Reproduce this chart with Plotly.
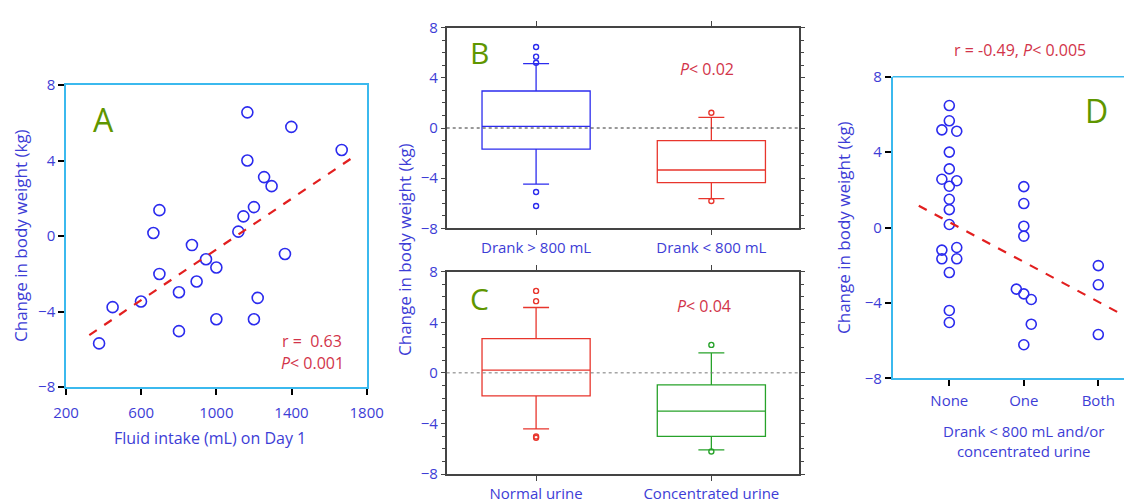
import numpy as np
import plotly.graph_objects as go

# ---------------- data ----------------
# Panel A: fluid intake vs change in body weight
a_intake = [376, 448, 599, 665, 697, 697, 801, 801, 870, 895, 945, 1000, 1000,
            1117, 1144, 1200, 1165, 1165, 1254, 1294, 1220, 1200, 1365, 1399, 1667]
a_change = [-5.69, -3.77, -3.47, 0.16, 1.37, -2.01, -2.98, -5.04, -0.48, -2.41, -1.23, -1.67, -4.41,
            0.23, 1.04, 1.53, 6.55, 4.00, 3.12, 2.64, -3.28, -4.41, -0.95, 5.78, 4.56]
a_fit_x = [324, 1733]
a_fit_intercept = -7.425
a_fit_slope = 0.006714

# Panel B: box statistics
b_cats = ["Drank > 800 mL", "Drank < 800 mL"]
b_q1 = [-1.68, -4.36]
b_median = [0.13, -3.35]
b_q3 = [2.95, -1.01]
b_lower = [-4.47, -5.64]
b_upper = [5.13, 0.85]
b_out_1 = [6.46, 5.69, 5.20, -5.10, -6.22]
b_out_2 = [1.22, -5.82]

# Panel C: box statistics
c_cats = ["Normal urine", "Concentrated urine"]
c_q1 = [-1.82, -5.03]
c_median = [0.21, -3.03]
c_q3 = [2.71, -0.95]
c_lower = [-4.43, -6.09]
c_upper = [5.17, 1.58]
c_out_1 = [6.48, 5.67, -5.03, -5.14]
c_out_2 = [2.21, -6.22]

# Panel D: grouped points
d_labels = ["None", "One", "Both"]
d_group = [0]*19 + [1]*9 + [2]*3
d_dodge = [0, 0, -0.1, 0.1, 0, 0, -0.1, 0.1, 0, 0, 0, 0, -0.1, 0.1, -0.1, 0.1, 0, 0, 0,
           0, 0, 0, 0, -0.1, 0, 0.1, 0.1, 0,
           0, 0, 0]
d_change = [6.47, 5.66, 5.18, 5.11, 4.00, 3.11, 2.56, 2.48, 2.19, 1.50, 0.95, 0.16, -1.20, -1.06,
            -1.66, -1.66, -2.39, -4.40, -5.04,
            2.17, 1.27, 0.07, -0.46, -3.27, -3.52, -3.82, -5.13, -6.22,
            -2.02, -3.04, -5.68]
d_fit_x = [-0.41, 2.28]
d_fit_intercept = 0.29
d_fit_slope = -2.116

# ---------------- styles ----------------
FONT = "Open Sans"
BLUE_TXT = "#3d3dd6"
BLUE_MK = "#2b2bee"
RED_TXT = "#d2344a"
RED_LINE = "#e21f1f"
RED_BOX = "#e8352c"
GREEN_BOX = "#27a22a"
GREEN_LBL = "#5f9600"
FRAME_LB = "#3bb9ee"
FRAME_DK = "#444444"

W, H = 1124, 499
def px(x):
    return x / W
def py(y):
    return 1 - y / H

fig = go.Figure()

# Panel A
fig.add_trace(go.Scatter(x=a_intake, y=a_change, mode="markers", xaxis="x", yaxis="y",
                         marker=dict(symbol="circle-open", size=11, color=BLUE_MK, line=dict(width=1.6))))
ax = np.array(a_fit_x, dtype=float)
fig.add_trace(go.Scatter(x=ax, y=a_fit_intercept + a_fit_slope*ax, mode="lines", xaxis="x", yaxis="y",
                         line=dict(color=RED_LINE, width=2.2, dash="dash")))

# Panel B
box_colors_b = [BLUE_MK, RED_BOX]
outs_b = [b_out_1, b_out_2]
for i in range(2):
    fig.add_trace(go.Box(x=[b_cats[i]], q1=[b_q1[i]], median=[b_median[i]], q3=[b_q3[i]],
                         lowerfence=[b_lower[i]], upperfence=[b_upper[i]], boxpoints=False,
                         width=0.617, whiskerwidth=0.24, fillcolor="rgba(0,0,0,0)",
                         line=dict(color=box_colors_b[i], width=1.3), xaxis="x2", yaxis="y2"))
    fig.add_trace(go.Scatter(x=[b_cats[i]]*len(outs_b[i]), y=outs_b[i], mode="markers",
                             xaxis="x2", yaxis="y2",
                             marker=dict(symbol="circle-open", size=5, color=box_colors_b[i],
                                         line=dict(width=1.4))))

# Panel C
box_colors_c = [RED_BOX, GREEN_BOX]
outs_c = [c_out_1, c_out_2]
for i in range(2):
    fig.add_trace(go.Box(x=[c_cats[i]], q1=[c_q1[i]], median=[c_median[i]], q3=[c_q3[i]],
                         lowerfence=[c_lower[i]], upperfence=[c_upper[i]], boxpoints=False,
                         width=0.617, whiskerwidth=0.24, fillcolor="rgba(0,0,0,0)",
                         line=dict(color=box_colors_c[i], width=1.3), xaxis="x3", yaxis="y3"))
    fig.add_trace(go.Scatter(x=[c_cats[i]]*len(outs_c[i]), y=outs_c[i], mode="markers",
                             xaxis="x3", yaxis="y3",
                             marker=dict(symbol="circle-open", size=5, color=box_colors_c[i],
                                         line=dict(width=1.4))))

# Panel D
dx = np.array(d_group, dtype=float) + np.array(d_dodge)
fig.add_trace(go.Scatter(x=dx, y=d_change, mode="markers", xaxis="x4", yaxis="y4",
                         marker=dict(symbol="circle-open", size=10, color=BLUE_MK, line=dict(width=1.6))))
dfx = np.array(d_fit_x, dtype=float)
fig.add_trace(go.Scatter(x=dfx, y=d_fit_intercept + d_fit_slope*dfx, mode="lines", xaxis="x4", yaxis="y4",
                         line=dict(color=RED_LINE, width=2.2, dash="dash")))

tickfont = dict(family=FONT, size=15, color=BLUE_TXT)

def lb_axis(**kw):
    d = dict(showline=True, linecolor=FRAME_LB, linewidth=1.5, mirror=True,
             ticks="outside", ticklen=6, tickcolor="black", tickwidth=1.5, automargin=False,
             showgrid=False, zeroline=False, tickfont=tickfont)
    d.update(kw)
    return d

def dk_axis(**kw):
    d = dict(showline=True, linecolor=FRAME_DK, linewidth=1.5, automargin=False,
             ticks="outside", ticklen=5, tickcolor=FRAME_DK, tickwidth=1.2,
             showgrid=False, zeroline=False, tickfont=tickfont)
    d.update(kw)
    return d

yticks = [-8, -4, 0, 4, 8]

fig.update_layout(
    width=W, height=H, margin=dict(l=0, r=0, t=0, b=0, pad=0, autoexpand=False),
    paper_bgcolor="white", plot_bgcolor="white", showlegend=False,
    font=dict(family=FONT),
    xaxis=lb_axis(domain=[px(66), px(366.7)], range=[200, 1800], tickvals=[200, 600, 1000, 1400, 1800],
                  anchor="y", ticklabelstandoff=5),
    yaxis=lb_axis(domain=[py(387), py(85)], range=[-8, 8], tickvals=yticks, anchor="x"),
    xaxis2=dk_axis(domain=[px(446.7), px(799)], range=[-0.51, 1.5], mirror="ticks", anchor="y2",
                   type="category", ticklabelstandoff=0),
    yaxis2=dk_axis(domain=[py(228.3), py(27.7)], range=[-8, 8], tickvals=yticks, mirror="allticks",
                   anchor="x2", ticklen=4,
                   minor=dict(dtick=1, ticks="outside", ticklen=3, tickcolor=FRAME_DK, tickwidth=1.2)),
    xaxis3=dk_axis(domain=[px(446.7), px(799)], range=[-0.51, 1.5], mirror="ticks", anchor="y3",
                   type="category", ticklabelstandoff=0),
    yaxis3=dk_axis(domain=[py(474), py(271.7)], range=[-8, 8], tickvals=yticks, mirror="allticks",
                   anchor="x3", ticklen=4,
                   minor=dict(dtick=1, ticks="outside", ticklen=3, tickcolor=FRAME_DK, tickwidth=1.2)),
    xaxis4=lb_axis(domain=[px(892.7), 1.0], range=[-0.76, 2.345], tickvals=[0, 1, 2], ticktext=d_labels,
                   anchor="y4", mirror=False, ticklabelstandoff=2),
    yaxis4=lb_axis(domain=[py(378.3), py(76.7)], range=[-8, 8], tickvals=yticks, anchor="x4", mirror=False),
)

shapes = [
    # zero reference lines in B and C
    dict(type="line", xref="x2 domain", yref="y2", x0=0, x1=1, y0=0, y1=0,
         line=dict(color="#333333", width=1, dash="dot")),
    dict(type="line", xref="x3 domain", yref="y3", x0=0, x1=1, y0=0, y1=0,
         line=dict(color="#777777", width=1, dash="dot")),
    # top border of D
    dict(type="line", xref="x4 domain", yref="y4 domain", x0=0, x1=1, y0=1, y1=1,
         line=dict(color=FRAME_LB, width=1.5)),
]
fig.update_layout(shapes=shapes)

ann = []
def add_text(x, y, text, size, color, angle=0, xanchor="center", yanchor="middle"):
    ann.append(dict(x=px(x), y=py(y), xref="paper", yref="paper", text=text, showarrow=False,
                    font=dict(family=FONT, size=size, color=color), textangle=angle,
                    xanchor=xanchor, yanchor=yanchor))

# axis titles
add_text(20, 236, "Change in body weight (kg)", 17, BLUE_TXT, angle=-90)
add_text(210, 438, "Fluid intake (mL) on Day 1", 16, BLUE_TXT)
add_text(405, 250, "Change in body weight (kg)", 17, BLUE_TXT, angle=-90)
add_text(843, 228, "Change in body weight (kg)", 17, BLUE_TXT, angle=-90)
add_text(1023, 441, "Drank &lt; 800 mL and/or<br>concentrated urine", 15, BLUE_TXT)

# panel letters
add_text(103, 119, "A", 32, GREEN_LBL)
add_text(479, 52, "B", 30, GREEN_LBL)
add_text(479, 298, "C", 30, GREEN_LBL)
add_text(1096, 110, "D", 32, GREEN_LBL)

# statistics
add_text(344, 341, "r =  0.63", 16, RED_TXT, xanchor="right")
add_text(346, 363, "<i>P</i>&lt; 0.001", 16, RED_TXT, xanchor="right")
add_text(707, 69, "<i>P</i>&lt; 0.02", 16, RED_TXT)
add_text(704, 306, "<i>P</i>&lt; 0.04", 16, RED_TXT)
add_text(1020, 50, "r = -0.49, <i>P</i>&lt; 0.005", 16, RED_TXT)

fig.update_layout(annotations=ann)

fig.write_html("out.html",
               post_script="document.body.style.margin='0';document.body.style.overflow='hidden';")
